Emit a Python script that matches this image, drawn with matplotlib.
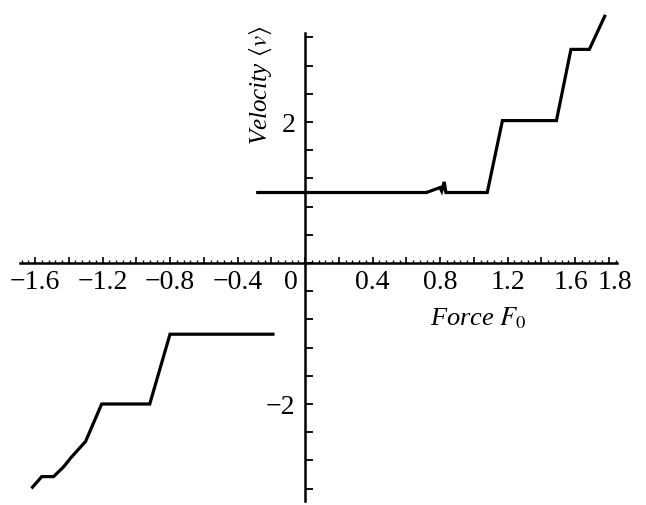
import numpy as np
import matplotlib.pyplot as plt
import matplotlib.transforms as mtransforms

plt.rcParams['font.family'] = 'serif'
plt.rcParams['font.serif'] = ['Liberation Serif']
plt.rcParams['mathtext.fontset'] = 'stix'

# positive-force branch
force_pos = [-0.28, 0.72, 0.80, 0.81, 0.825, 0.835, 1.08, 1.17, 1.49, 1.576, 1.685, 1.776]
vel_pos = [1.0, 1.0, 1.07, 1.02, 1.15, 1.0, 1.0, 2.02, 2.02, 3.03, 3.03, 3.5]

# negative-force branch
force_neg = [-0.19, -0.80, -0.92, -1.205, -1.30, -1.39, -1.43, -1.49, -1.56, -1.615]
vel_neg = [-1.01, -1.01, -2.0, -2.0, -2.53, -2.77, -2.89, -3.03, -3.03, -3.18]

xtick_vals = [-1.6, -1.2, -0.8, -0.4, 0, 0.4, 0.8, 1.2, 1.6, 1.8]
xtick_labels = ["\u22121.6", "\u22121.2", "\u22120.8", "\u22120.4", "0", "0.4", "0.8", "1.2", "1.6", "1.8"]

fig = plt.figure(figsize=(6.46, 5.05), dpi=100)
ax = fig.add_axes([0, 0, 1, 1])
ax.set_xlim(-305 / 168.75, (646 - 305) / 168.75)
ax.set_ylim(-(505 - 263) / 70.5, 263 / 70.5)

ax.plot(force_pos, vel_pos, color='black', lw=2.3, solid_joinstyle='miter')
ax.plot(force_neg, vel_neg, color='black', lw=2.3, solid_joinstyle='miter')

for s in ['right', 'top']:
    ax.spines[s].set_visible(False)
ax.spines['left'].set_position('zero')
ax.spines['bottom'].set_position('zero')
ax.spines['left'].set_bounds(-3.38, 3.26)
ax.spines['bottom'].set_bounds(-1.69, 1.85)
ax.spines['left'].set_linewidth(1.8)
ax.spines['bottom'].set_linewidth(1.8)

# x ticks: labelled majors, unlabelled 0.2 marks, minors every 0.04
major_x = np.round(np.arange(-1.6, 1.81, 0.2), 2)
ax.set_xticks(major_x)
ax.set_xticklabels([xtick_labels[xtick_vals.index(v)] if v in xtick_vals else "" for v in
                    [0.0 if abs(v) < 1e-9 else v for v in major_x]])
ax.set_xticks(np.round(np.arange(-1.68, 1.85, 0.04), 2), minor=True)
ax.tick_params(axis='x', which='major', direction='in', length=4, width=1.2,
               labelsize=20, pad=5)
ax.tick_params(axis='x', which='minor', direction='in', length=2.3, width=1.0)

# y ticks every 0.4, only +/-2 labelled
ytick_vals = np.round(np.arange(-3.2, 3.21, 0.4), 2)
ax.set_yticks(ytick_vals)
ax.set_yticklabels(["2" if abs(v - 2) < 1e-9 else ("\u22122" if abs(v + 2) < 1e-9 else "")
                    for v in ytick_vals])
ax.tick_params(axis='y', which='major', direction='in', length=6, width=1.3,
               labelsize=20, pad=7)

# nudge a few x labels as in the original
shifts = {"0": -14, "1.6": -4, "1.8": 6}
for lab in ax.get_xticklabels():
    if lab.get_text() in shifts:
        lab.set_transform(lab.get_transform() +
                          mtransforms.ScaledTranslation(shifts[lab.get_text()] / 100, 0,
                                                        fig.dpi_scale_trans))

ax.text(-0.26, 2.52, r"Velocity $\langle v\rangle$", rotation=90, fontsize=18,
        fontstyle='italic', ha='center', va='center')
ax.text(1.03, -0.78, r"Force $F_0$", fontsize=19, fontstyle='italic',
        ha='center', va='center')

fig.savefig("out.png", dpi=100)
